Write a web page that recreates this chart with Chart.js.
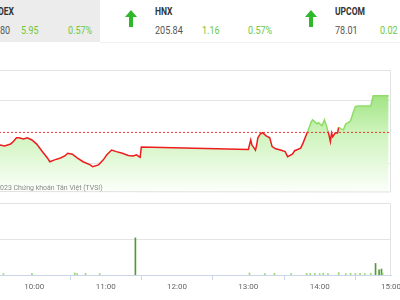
<!DOCTYPE html>
<html>
<head>
<meta charset="utf-8">
<script src="https://cdn.jsdelivr.net/npm/chart.js@4"></script>
<style>
  html, body { margin: 0; padding: 0; }
  body { width: 400px; height: 300px; position: relative; overflow: hidden; background: #fff; font-family: Roboto, sans-serif; }
  .abs { position: absolute; white-space: nowrap; transform-origin: left center; }
  .lbl { font-size: 10px; font-weight: bold; color: #333; line-height: 14px; transform: scaleX(.85); }
  .num { font-size: 11px; line-height: 14px; color: #555; transform: scaleX(.82); }
  .up { color: #6cc93c; }
  #box { left: 0; top: 0; width: 100px; height: 42px; background: #ececec; }
  #hline { left: 100px; top: 42px; width: 300px; height: 1px; background: #f2f2f2; }
  #wm { right: 297px; top: 182px; font-size: 8px; line-height: 12px; color: #8a8a8a; transform: scaleX(.87); transform-origin: right center; }
  canvas { position: absolute; }
</style>
</head>
<body>
<div class="abs" id="box"></div>
<div class="abs" id="hline"></div>

<div class="abs lbl" style="right:386px; left:auto; transform-origin:right center; top:5px;">VN-INDEX</div>
<div class="abs num" style="right:390px; left:auto; transform-origin:right center; top:24px;">1,049.80</div>
<div class="abs num up" style="left:21px; top:24px;">5.95</div>
<div class="abs num up" style="left:68px; top:24px;">0.57%</div>

<svg class="abs" style="left:125px; top:10px;" width="12" height="17" viewBox="0 0 12 17">
  <polygon points="6,0 12,7 8,7 8,17 4,17 4,7 0,7" fill="#2fb82a"/>
</svg>
<div class="abs lbl" style="left:155px; top:5px;">HNX</div>
<div class="abs num" style="left:155px; top:24px;">205.84</div>
<div class="abs num up" style="left:202px; top:24px;">1.16</div>
<div class="abs num up" style="left:248px; top:24px;">0.57%</div>

<svg class="abs" style="left:305px; top:10px;" width="12" height="17" viewBox="0 0 12 17">
  <polygon points="6,0 12,7 8,7 8,17 4,17 4,7 0,7" fill="#2fb82a"/>
</svg>
<div class="abs lbl" style="left:335px; top:5px;">UPCOM</div>
<div class="abs num" style="left:335px; top:24px;">78.01</div>
<div class="abs num up" style="left:380px; top:24px;">0.02</div>

<canvas id="priceChart" width="450" height="140" style="left:-40px; top:60px;"></canvas>
<canvas id="volChart" width="450" height="105" style="left:-40px; top:195px;"></canvas>
<div class="abs" id="wm">© 2023 Chứng khoán Tân Việt (TVSI)</div>

<script>
const refPrice = 204.68;

const priceTimes = ["09:00","09:14","09:31","09:35","09:40","09:42","09:45","09:47","09:51","09:54","09:58",
  "10:02","10:07","10:11","10:13","10:17","10:22","10:26","10:28","10:32","10:36","10:41","10:47","10:49","10:54","10:58",
  "11:01","11:05","11:09","11:14","11:19","11:23","11:26","11:28","11:29","11:30",
  "13:00","13:02","13:03","13:04","13:06","13:07","13:08","13:10","13:12","13:15","13:18","13:20","13:23","13:27",
  "13:31","13:33","13:37","13:39","13:44","13:46","13:49","13:50","13:53","13:54","13:58","13:59",
  "14:02","14:04","14:06","14:07","14:08","14:09","14:10","14:11","14:13","14:15","14:16","14:18","14:20",
  "14:22","14:24","14:26","14:28","14:30","14:32","14:43","14:45","14:58"];

const priceValues = [204.38,204.31,204.28,204.25,204.31,204.38,204.51,204.51,204.47,204.51,204.44,
  204.31,204.06,203.87,203.75,203.81,203.87,203.94,204.02,203.99,203.87,203.75,203.65,203.59,203.65,203.81,
  203.97,204.12,204.07,204.02,203.95,203.93,203.97,203.91,203.89,204.22,
  204.14,204.44,204.28,204.23,204.12,204.28,204.51,204.63,204.67,204.57,204.51,204.23,204.16,204.12,
  204.07,203.91,203.99,204.10,204.18,204.34,204.63,204.71,205.02,205.08,204.95,204.99,
  204.89,205.08,204.85,204.71,204.57,204.39,204.66,204.54,204.66,204.66,204.85,204.79,204.76,
  204.95,204.99,205.05,205.29,205.50,205.52,205.52,205.84,205.84];

const volTimes = ["09:34","09:58","10:34","10:36","10:43","10:55","11:25","13:01","13:14","13:22","13:36",
  "13:49","13:52","13:56","14:00","14:03","14:07","14:16","14:22","14:26","14:30","14:34","14:38","14:43",
  "14:47","14:50","14:52","14:53"];

const volValues = [40000,50000,60000,40000,50000,40000,1060000,60000,40000,50000,40000,
  50000,40000,50000,40000,50000,40000,70000,40000,50000,40000,50000,40000,50000,
  330000,150000,170000,60000];

const priceGridTicks = [203.68, 205.68];
const volGridTicks = [1000000];
const hourTicks = ["09:00","10:00","11:00","12:00","13:00","14:00","15:00"];

// minutes since 09:00
const toMin = (t) => {
  const [h, m] = t.split(":").map(Number);
  return h * 60 + m - 540;
};

const panelFrame = {
  id: "panelFrame",
  afterDraw(chart) {
    const { ctx, chartArea } = chart;
    ctx.save();
    ctx.strokeStyle = "#e2e2e2";
    ctx.lineWidth = 1;
    ctx.beginPath();
    ctx.moveTo(chartArea.left, chartArea.top + 0.5);
    ctx.lineTo(chartArea.right - 0.5, chartArea.top + 0.5);
    ctx.lineTo(chartArea.right - 0.5, chartArea.bottom);
    if (chart.canvas.id === "priceChart") {
      ctx.lineTo(chartArea.left, chartArea.bottom - 0.5);
    }
    ctx.stroke();
    ctx.restore();
  },
};

const red = "#ee1c1c";
const green = "#8fdc68";
const pricePoints = priceTimes.map((t, i) => ({ x: toMin(t), y: priceValues[i] }));

new Chart(document.getElementById("priceChart"), {
  type: "line",
  data: {
    datasets: [
      {
        label: "ref",
        order: 0,
        data: [{ x: 0, y: refPrice }, { x: 360, y: refPrice }],
        borderColor: "#e33",
        borderWidth: 1,
        borderDash: [2, 2],
        pointRadius: 0,
        fill: false,
      },
      {
        label: "HNX",
        order: 1,
        data: pricePoints,
        borderWidth: 1.5,
        pointRadius: 0,
        tension: 0,
        fill: false,
        segment: {
          borderColor: (c) =>
            c.p0.parsed.y < refPrice || c.p1.parsed.y < refPrice ? red : green,
        },
      },
      {
        label: "area",
        order: 2,
        data: pricePoints,
        borderWidth: 0,
        pointRadius: 0,
        tension: 0,
        fill: "start",
        backgroundColor: (c) => {
          const area = c.chart.chartArea;
          if (!area) return "rgba(0,0,0,0)";
          const g = c.chart.ctx.createLinearGradient(0, area.top, 0, area.bottom);
          g.addColorStop(0, "rgb(130,218,92)");
          g.addColorStop(0.5, "rgb(204,243,186)");
          g.addColorStop(1, "rgb(252,255,250)");
          return g;
        },
      },
    ],
  },
  options: {
    responsive: false,
    animation: false,
    layout: { padding: { left: 3, right: 19, top: 10, bottom: 8 } },
    plugins: { legend: { display: false }, tooltip: { enabled: false } },
    scales: {
      x: { type: "linear", min: 0, max: 360, display: false },
      y: {
        min: 202.79,
        max: 206.66,
        afterBuildTicks: (s) => { s.ticks = priceGridTicks.map((v) => ({ value: v })); },
        ticks: { display: false },
        grid: { color: "#e4e4e4", drawTicks: false },
        border: { display: false },
      },
    },
  },
  plugins: [panelFrame],
});

new Chart(document.getElementById("volChart"), {
  type: "bar",
  data: {
    datasets: [
      {
        label: "KL",
        data: volTimes.map((t, i) => ({ x: toMin(t), y: volValues[i] })),
        backgroundColor: (c) => (c.raw && c.raw.y >= 100000 ? "#4f9c34" : "#9ad97a"),
        barThickness: 1,
      },
    ],
  },
  options: {
    responsive: false,
    animation: false,
    layout: { padding: { left: 3, right: 19, top: 8, bottom: 0 } },
    plugins: { legend: { display: false }, tooltip: { enabled: false } },
    scales: {
      x: {
        type: "linear",
        min: 0,
        max: 360,
        offset: false,
        afterBuildTicks: (s) => { s.ticks = hourTicks.map((t) => ({ value: toMin(t) })); },
        afterFit: (s) => {
          s.height = 25;
          s.paddingLeft = 0;
          s.paddingRight = 0;
        },
        ticks: {
          color: "#666",
          font: { family: "Roboto", size: 8 },
          padding: 2,
          maxRotation: 0,
          callback: (v) => hourTicks[v / 60],
        },
        grid: { drawOnChartArea: false, drawTicks: true, tickLength: 5, color: "#ccd6eb" },
        border: { color: "#ccd6eb" },
      },
      y: {
        min: 0,
        max: 2057000,
        afterBuildTicks: (s) => { s.ticks = volGridTicks.map((v) => ({ value: v })); },
        ticks: { display: false },
        grid: { color: "#e4e4e4", drawTicks: false },
        border: { display: false },
      },
    },
  },
  plugins: [panelFrame],
});
</script>
</body>
</html>
